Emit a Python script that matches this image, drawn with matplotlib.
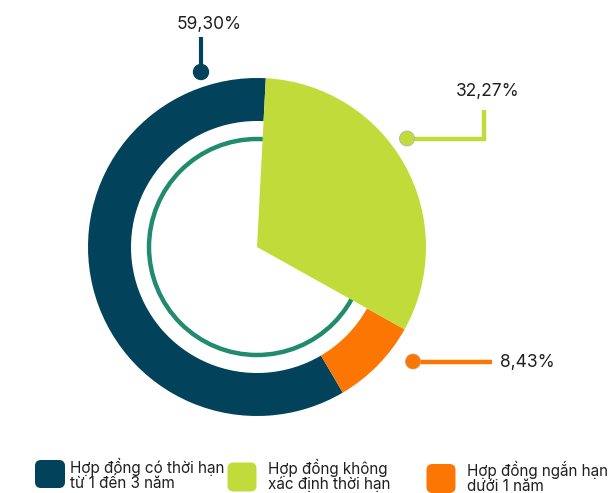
import matplotlib
matplotlib.use("Agg")
import matplotlib.pyplot as plt
from matplotlib.patches import FancyBboxPatch, Circle

categories = ["Hợp đồng có thời hạn\ntừ 1 đến 3 năm",
              "Hợp đồng không\nxác định thời hạn",
              "Hợp đồng ngắn hạn\ndưới 1 năm"]
values = [59.30, 32.27, 8.43]
value_labels = ["59,30%", "32,27%", "8,43%"]
colors = ["#02425a", "#c1dc3a", "#fb7602"]
ring_color = "#218b6f"

plt.rcParams['font.family'] = ['Inter', 'DejaVu Sans']

fig = plt.figure(figsize=(6.08, 4.93), dpi=100)
ax = fig.add_axes([0, 0, 1, 1])
ax.set_xlim(0, 608)
ax.set_ylim(0, 493)
ax.set_aspect('equal')
ax.axis('off')

H = 493
cx, cy, R = 257, H - 247, 169
inner = 126

# thin inner ring
ax.add_patch(Circle((cx, cy), 108, fill=False, lw=3.2, edgecolor=ring_color, zorder=1))

wedges, _ = ax.pie(values, colors=colors, startangle=-59.5, counterclock=False,
                   center=(cx, cy), radius=R,
                   wedgeprops=dict(width=R - inner, linewidth=0))
for w in wedges:
    w.set_zorder(2)
wedges[1].set_width(None)
wedges[1].set_zorder(3)
ax.set_xlim(0, 608)
ax.set_ylim(0, 493)

txt_color = "#1f1f1f"
lab_fs = 12.5
# navy label
ax.plot([201, 201], [H - 72, H - 37], color=colors[0], lw=3, zorder=4, solid_capstyle='butt')
ax.add_patch(Circle((201, H - 72), 7.5, color=colors[0], zorder=5))
ax.text(209.5, H - 24, value_labels[0], ha='center', va='center', fontsize=lab_fs, color=txt_color)

# green label
ax.plot([407, 484, 484], [H - 138.5, H - 138.5, H - 110], color=colors[1], lw=3.2,
        zorder=4, solid_joinstyle='miter', solid_capstyle='butt')
ax.add_patch(Circle((407, H - 138.5), 7.5, facecolor=colors[1], edgecolor="#b0b8a0", lw=0.6, zorder=5))
ax.text(488, H - 91.5, value_labels[1], ha='center', va='center', fontsize=lab_fs, color=txt_color)

# orange label
ax.plot([413, 492], [H - 361.5, H - 361.5], color=colors[2], lw=3.2, zorder=4, solid_capstyle='butt')
ax.add_patch(Circle((413, H - 361.5), 7.5, facecolor=colors[2], edgecolor="#d0a080", lw=0.6, zorder=5))
ax.text(500, H - 363, value_labels[2], ha='left', va='center', fontsize=lab_fs, color=txt_color)

# legend
boxes = [(35, 460, 30, 28), (227.5, 462.5, 29, 29), (426.5, 464, 29, 29)]
text_x = [70, 268, 467]
baselines = [472.5, 474.2, 476]
for (bx, by, bw, bh), tx, bl, c, lab in zip(boxes, text_x, baselines, colors, categories):
    pad = 6
    ax.add_patch(FancyBboxPatch((bx + pad, H - (by + bh) + pad), bw - 2 * pad, bh - 2 * pad,
                                boxstyle=f"round,pad={pad}", facecolor=c, edgecolor='none'))
    for i, line in enumerate(lab.split("\n")):
        ax.text(tx, H - (bl + 15 * i), line, ha='left', va='baseline', fontsize=11,
                color=txt_color)

fig.savefig("out.png", dpi=100)
